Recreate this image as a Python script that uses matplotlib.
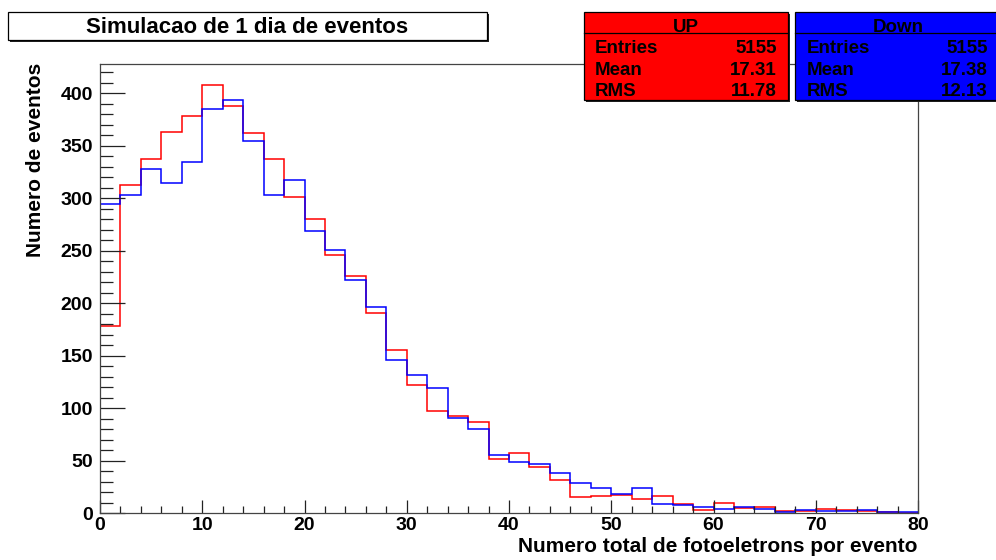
import numpy as np
import matplotlib
matplotlib.use('Agg')
import matplotlib.pyplot as plt
from matplotlib.patches import Rectangle
from matplotlib.lines import Line2D
from matplotlib.ticker import MultipleLocator

plt.rcParams['font.family'] = ['Liberation Sans', 'DejaVu Sans']
plt.rcParams['font.weight'] = 'bold'

# ---------------- data ----------------
bin_edges = list(range(0, 82, 2))
up_counts = [178, 313, 337, 363, 378, 408, 388, 362, 337, 301,
             280, 246, 226, 191, 155, 122, 97, 92, 87, 51,
             57, 44, 31, 15, 16, 17, 13, 16, 9, 3,
             10, 5, 6, 2, 2, 4, 3, 2, 1, 0]
down_counts = [295, 303, 328, 315, 335, 385, 394, 355, 303, 317,
               269, 251, 222, 196, 146, 132, 119, 91, 80, 55,
               49, 47, 38, 29, 24, 18, 24, 9, 8, 6,
               4, 6, 4, 1, 3, 2, 2, 3, 1, 1]
title = "Simulacao de 1 dia de eventos"
xlabel = "Numero total de fotoeletrons por evento"
ylabel = "Numero de eventos"
up_stats = [("Entries", "5155"), ("Mean", "17.31"), ("RMS", "11.78")]
down_stats = [("Entries", "5155"), ("Mean", "17.38"), ("RMS", "12.13")]

W, H = 996, 560
fig = plt.figure(figsize=(W / 100, H / 100), dpi=100)
fig.patch.set_facecolor('white')


def fx(x):
    return x / W


def fy(y):
    return 1 - y / H


ax = fig.add_axes([fx(100), fy(513), (918 - 100) / W, (513 - 64) / H])
ax.stairs(up_counts, bin_edges, color='#ff0000', lw=1.1, baseline=0)
ax.stairs(down_counts, bin_edges, color='#0000ff', lw=1.1, baseline=0)
ax.set_xlim(0, 80)
ax.set_ylim(0, 428)
ax.xaxis.set_major_locator(MultipleLocator(10))
ax.xaxis.set_minor_locator(MultipleLocator(2))
ax.yaxis.set_major_locator(MultipleLocator(50))
ax.yaxis.set_minor_locator(MultipleLocator(10))
for s in ax.spines.values():
    s.set_color('#444444')
    s.set_linewidth(0.9)
ax.tick_params(axis='both', which='both', direction='in', colors='#222222',
               width=0.9, labelsize=14)
ax.tick_params(axis='y', which='major', length=18, pad=5)
ax.tick_params(axis='y', which='minor', length=9)
ax.tick_params(axis='x', which='major', length=9.4, pad=3)
ax.tick_params(axis='x', which='minor', length=5)
ax.tick_params(top=False, right=False)
for lab in ax.get_xticklabels() + ax.get_yticklabels():
    lab.set_fontweight('bold')
    lab.set_color('black')

# axis titles
fig.text(fx(917), fy(551.7), xlabel, ha='right', va='baseline',
         fontsize=15, fontweight='bold')
fig.text(fx(36), fy(63), ylabel, ha='center', va='top', rotation=90,
         fontsize=15, fontweight='bold')

# title box
def box(x0, y0, x1, y1, fc, shadow=2):
    fig.patches.append(Rectangle((fx(x0 + shadow), fy(y1 + shadow)),
                                 (x1 - x0) / W, (y1 - y0) / H,
                                 transform=fig.transFigure, facecolor='#222222',
                                 edgecolor='none', zorder=1))
    fig.patches.append(Rectangle((fx(x0), fy(y1)), (x1 - x0) / W, (y1 - y0) / H,
                                 transform=fig.transFigure, facecolor=fc,
                                 edgecolor='black', lw=0.9, zorder=2))


box(8, 12, 487, 40, 'white')
fig.text(fx(247), fy(33.3), title, ha='center', va='baseline',
         fontsize=16, fontweight='bold', zorder=3)


def stat_box(x0, x1, fc, name, stats, lx, rx, cx):
    box(x0, 12, x1, 100, fc)
    fig.lines.append(Line2D([fx(x0), fx(x1)], [fy(33), fy(33)],
                            transform=fig.transFigure, color='black', lw=0.9,
                            zorder=3))
    fig.text(fx(cx), fy(31.5), name, ha='center', va='baseline',
             fontsize=13.5, fontweight='bold', zorder=4)
    for (k, v), yb in zip(stats, [53, 75, 96.5]):
        fig.text(fx(lx), fy(yb), k, ha='left', va='baseline',
                 fontsize=13.5, fontweight='bold', zorder=4)
        fig.text(fx(rx), fy(yb), v, ha='right', va='baseline',
                 fontsize=13.5, fontweight='bold', zorder=4)


stat_box(584, 788, '#ff0000', 'UP', up_stats, 595, 777, 686)
stat_box(795, 1002, '#0000ff', 'Down', down_stats, 807, 988, 898)

fig.savefig('out.png', dpi=100)
